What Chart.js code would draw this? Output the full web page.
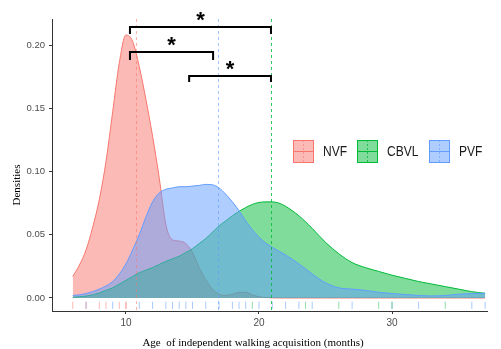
<!DOCTYPE html>
<html>
<head>
<meta charset="utf-8">
<script src="https://cdn.jsdelivr.net/npm/chart.js@4.4.1/dist/chart.umd.min.js"></script>
<style>
html,body{margin:0;padding:0;background:#fff;}
#wrap{width:501px;height:349px;}
</style>
</head>
<body>
<div id="wrap"><canvas id="c" width="501" height="349"></canvas></div>
<script>
/* density curves (age in months) */
const AGE=[6,6.5,7,7.5,8,8.5,9,9.5,10,10.5,11,11.5,12,12.5,13,13.5,14,14.5,15,15.5,16,16.5,17,17.5,18,18.5,19,19.5,20,20.5,21,21.5,22,23,24,25,26,27,28,29,30,31,32,33,34,35,36,37];
const NVF=[0.017,0.026,0.038,0.056,0.078,0.108,0.147,0.186,0.208,0.203,0.183,0.157,0.128,0.095,0.058,0.046,0.045,0.043,0.036,0.024,0.0145,0.007,0.003,0.002,0.003,0.0045,0.0045,0.0025,0.001,0.0004,0.0001,0,0,0,0,0,0,0,0,0,0,0,0,0,0,0,0,0];
const CBVL=[0.0005,0.001,0.0015,0.0025,0.004,0.006,0.008,0.011,0.014,0.017,0.020,0.022,0.024,0.0265,0.029,0.031,0.033,0.036,0.039,0.043,0.047,0.052,0.057,0.061,0.065,0.0685,0.0715,0.074,0.0755,0.076,0.076,0.075,0.0725,0.065,0.055,0.044,0.035,0.028,0.024,0.021,0.018,0.0155,0.013,0.011,0.009,0.007,0.005,0.0037];
const PVF=[0.002,0.0025,0.0035,0.005,0.007,0.0095,0.013,0.019,0.027,0.038,0.050,0.064,0.076,0.083,0.086,0.087,0.088,0.088,0.0885,0.089,0.0898,0.0895,0.087,0.082,0.076,0.069,0.061,0.054,0.048,0.0435,0.040,0.037,0.034,0.027,0.019,0.012,0.008,0.007,0.006,0.0045,0.0035,0.0027,0.002,0.0016,0.002,0.003,0.0035,0.0037];

/* rug (individual observations) */
const NVF_RUG=[6,7,8,8.5,9.5,10,10];
const CBVL_RUG=[19.5,23.5,26,29,30,34];
const PVF_RUG=[7,9,11,12,13,13.5,14,14.5,15,16,17,18,18.5,19,20,21,22,23,24,27,30,32,36,37];

/* group means (dashed lines) */
const GROUPS=['NVF','CBVL','PVF'];
const MEANS=[10.75,20.9,16.9];

/* significance brackets: from, to, level, tip level */
const BR_FROM=[10.3,10.3,14.75];
const BR_TO=[20.9,16.55,20.9];
const BR_LEVEL=[0.2142,0.1945,0.1755];
const BR_TIP=[0.2087,0.1882,0.1708];
const BR_LABEL=['*','*','*'];

const X_TICKS=[10,20,30];
const Y_TICKS=[0,0.05,0.10,0.15,0.20];

const LINE=['#F8766D','#00BA38','#619CFF'];
const FILL=['rgba(248,118,109,.5)','rgba(0,186,56,.5)','rgba(97,156,255,.5)'];
const RUGC=['rgba(248,118,109,.5)','rgba(0,186,56,.45)','rgba(97,156,255,.55)'];
const VLC=['rgba(248,118,109,.55)','rgba(0,186,56,.8)','rgba(97,156,255,.6)'];
const RUG_Y=-0.0058;
const SANS="'Liberation Sans',Arial,sans-serif";
const SERIF="'Liberation Serif','Times New Roman',serif";

const curves=[NVF,CBVL,PVF];
const rugs=[NVF_RUG,CBVL_RUG,PVF_RUG];
const drawOrder=[3,2,1];

const datasets=[];
curves.forEach((vals,i)=>{
  datasets.push({
    label:GROUPS[i],
    data:AGE.map((a,k)=>({x:a,y:vals[k]})),
    borderColor:LINE[i],backgroundColor:FILL[i],borderWidth:1,
    fill:'origin',pointRadius:0,cubicInterpolationMode:'monotone',order:drawOrder[i]
  });
});
rugs.forEach((r,i)=>{
  datasets.push({
    label:GROUPS[i]+' rug',type:'scatter',
    data:r.map(v=>({x:v,y:RUG_Y})),
    pointStyle:'line',rotation:90,pointRadius:3.6,borderWidth:1,
    borderColor:RUGC[i],backgroundColor:RUGC[i],order:0
  });
});

// narrow text helper (the original uses a condensed face)
function narrowText(ctx,txt,x,y,sx){
  ctx.save();ctx.translate(x,y);ctx.scale(sx,1);ctx.fillText(txt,0,0);ctx.restore();
}

const extras={
  id:'extras',
  afterDatasetsDraw(chart){
    const {ctx,chartArea:a,scales:{x,y}}=chart;
    ctx.save();
    // mean lines
    ctx.lineWidth=1;ctx.setLineDash([3,3]);
    MEANS.forEach((m,i)=>{
      const px=Math.round(x.getPixelForValue(m))+0.5;
      ctx.strokeStyle=VLC[i];
      ctx.beginPath();ctx.moveTo(px,a.top);ctx.lineTo(px,a.bottom);ctx.stroke();
    });
    ctx.setLineDash([]);
    // brackets
    ctx.strokeStyle='#000';ctx.lineWidth=2;ctx.fillStyle='#000';
    ctx.font="bold 22px "+SANS;
    ctx.textAlign='center';ctx.textBaseline='middle';
    BR_FROM.forEach((f,i)=>{
      const x1=x.getPixelForValue(f),x2=x.getPixelForValue(BR_TO[i]);
      const yl=y.getPixelForValue(BR_LEVEL[i]),yt=y.getPixelForValue(BR_TIP[i]);
      ctx.beginPath();
      ctx.moveTo(x1,yt);ctx.lineTo(x1,yl);ctx.lineTo(x2,yl);ctx.lineTo(x2,yt);
      ctx.stroke();
      ctx.fillText(BR_LABEL[i],(x1+x2)/2,yl-6);
    });
    ctx.restore();
  },
  afterDraw(chart){
    const {ctx}=chart;
    ctx.save();
    // legend
    const keyX=[293,357,429],ly=140,kw=21,kh=23;
    ctx.font="14px "+SANS;ctx.textBaseline='middle';ctx.textAlign='left';
    GROUPS.forEach((g,i)=>{
      const lx=keyX[i];
      ctx.fillStyle='#fff';ctx.fillRect(lx,ly,kw,kh);
      ctx.fillStyle=FILL[i];ctx.fillRect(lx,ly,kw,kh);
      ctx.strokeStyle=LINE[i];ctx.lineWidth=1;
      ctx.strokeRect(lx+0.5,ly+0.5,kw-1,kh-1);
      ctx.beginPath();ctx.moveTo(lx,ly+kh/2);ctx.lineTo(lx+kw,ly+kh/2);ctx.stroke();
      ctx.setLineDash([2,2]);ctx.strokeStyle=VLC[i];
      ctx.beginPath();ctx.moveTo(lx+kw/2,ly);ctx.lineTo(lx+kw/2,ly+kh);ctx.stroke();
      ctx.setLineDash([]);
      ctx.fillStyle='#1a1a1a';
      narrowText(ctx,g,lx+kw+9,ly+kh/2+0.5,0.86);
    });
    // axis titles
    ctx.fillStyle='#000';ctx.font="11px "+SERIF;
    ctx.textAlign='center';ctx.textBaseline='middle';
    ctx.fillText('Age  of independent walking acquisition (months)',253,343);
    ctx.translate(17,185);ctx.rotate(-Math.PI/2);
    ctx.fillText('Densities',0,0);
    ctx.restore();
  }
};

new Chart(document.getElementById('c'),{
  type:'line',
  data:{datasets},
  options:{
    responsive:false,animation:false,
    layout:{padding:{top:19,right:14,left:0,bottom:0}},
    plugins:{legend:{display:false},tooltip:{enabled:false}},
    scales:{
      x:{type:'linear',min:4.44,max:37.14,
         afterBuildTicks:s=>{s.ticks=X_TICKS.map(v=>({value:v}));},
         afterFit:s=>{s.height=38;},
         grid:{display:true,drawOnChartArea:false,drawTicks:true,tickLength:3,color:'#333'},
         border:{display:true,color:'#333',width:1},
         ticks:{color:'#4d4d4d',padding:3,maxRotation:0,font:{family:SANS,size:10}}},
      y:{min:-0.0103,max:0.2206,
         afterBuildTicks:s=>{s.ticks=Y_TICKS.map(v=>({value:v}));},
         afterFit:s=>{s.width=52;},
         grid:{display:true,drawOnChartArea:false,drawTicks:true,tickLength:3,color:'#333'},
         border:{display:true,color:'#333',width:1},
         ticks:{color:'#4d4d4d',padding:4,font:{family:SANS,size:9.5},callback:v=>v.toFixed(2)}}
    }
  },
  plugins:[extras]
});
</script>
</body>
</html>
